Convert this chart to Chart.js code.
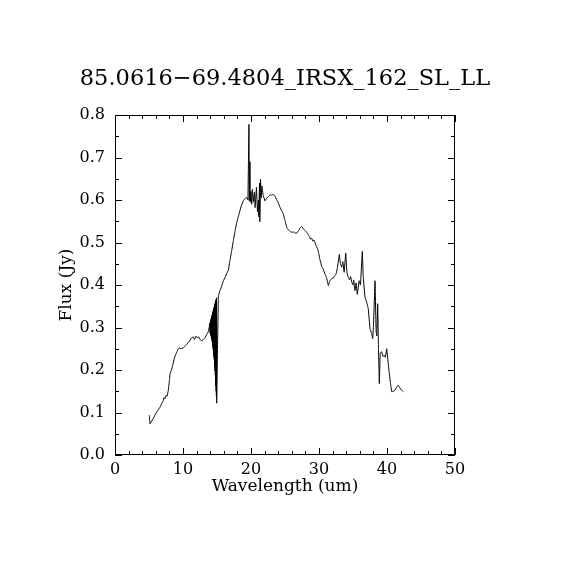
<!DOCTYPE html>
<html>
<head>
<meta charset="utf-8">
<title>85.0616−69.4804_IRSX_162_SL_LL</title>
<script src="https://cdn.jsdelivr.net/npm/chart.js@4.4.1/dist/chart.umd.min.js"></script>
<style>
    html, body { margin: 0; padding: 0; background: #fff; }
    #wrap { width: 570px; height: 570px; }
</style>
</head>
<body>
<div id="wrap"><canvas id="spectrumChart"></canvas></div>
<script>
// spectrum
const wavelength = [
    5.04, 5.15, 5.4, 5.7, 6.0, 6.3, 6.6, 6.9, 7.1, 7.2, 7.35, 7.5, 7.65, 7.84, 8.0, 8.1, 8.3, 8.5, 8.7, 8.9,
    9.1, 9.31, 9.5, 9.7, 10.04, 10.3, 10.54, 10.8, 11.0, 11.2, 11.5, 11.7, 11.9, 12.1, 12.3, 12.5, 12.75, 13.0, 13.24, 13.5,
    13.72,
    // noisy stretch around 14-15 um
    13.97, 13.99, 14.01, 14.03, 14.05, 14.07, 14.09, 14.11, 14.13, 14.15, 14.17, 14.19, 14.21, 14.23, 14.25, 14.27, 14.29, 14.31, 14.33, 14.35,
    14.37, 14.39, 14.41, 14.43, 14.45, 14.47, 14.49, 14.51, 14.53, 14.55, 14.57, 14.59, 14.61, 14.63, 14.65, 14.67, 14.69, 14.71, 14.73, 14.75,
    14.77, 14.79, 14.81, 14.83, 14.85, 14.87, 14.89, 14.91, 14.93, 14.95,
    15.2, 15.44, 15.7, 15.93, 16.2, 16.45, 16.66, 16.9, 17.15, 17.4, 17.65, 17.9, 18.15,
    18.38, 18.6, 18.87, 19.1, 19.37, 19.55, 19.7, 19.75, 19.85, 19.9, 20.0, 20.1, 20.2, 20.35, 20.5, 20.6, 20.8, 20.95, 21.1, 21.15,
    21.25, 21.3, 21.4, 21.5, 21.6, 21.8, 22.06, 22.3, 22.5, 22.75, 23.0, 23.25, 23.5, 23.8, 24.0, 24.26, 24.5, 24.75, 25.0, 25.25,
    25.5, 25.74, 26.0, 26.3, 26.5, 26.72, 27.0, 27.2, 27.46, 27.7, 27.95, 28.19, 28.43, 28.6, 28.75, 28.93, 29.1, 29.25, 29.41, 29.6,
    29.9, 30.1, 30.4, 30.6, 30.88, 31.1, 31.37, 31.6, 31.87, 32.1, 32.3, 32.5, 32.7, 32.99, 33.15, 33.34, 33.5, 33.7, 33.93, 34.1,
    34.31, 34.5, 34.65, 34.81, 35.0, 35.1, 35.29, 35.45, 35.63, 35.9, 36.1, 36.37, 36.5, 36.76, 37.0, 37.25, 37.5, 37.7, 37.9, 38.0,
    38.24, 38.4, 38.5, 38.63, 38.75, 38.87, 39.0, 39.22, 39.4, 39.56, 39.75, 39.96, 40.15, 40.34, 40.5, 40.69, 40.9, 41.18, 41.4, 41.66,
    41.9, 42.1, 42.4
];
const flux = [
    0.094, 0.073, 0.080, 0.088, 0.098, 0.105, 0.112, 0.122, 0.128, 0.135, 0.132, 0.140, 0.138, 0.152, 0.175, 0.192, 0.200, 0.212, 0.226, 0.235,
    0.243, 0.250, 0.252, 0.250, 0.252, 0.256, 0.260, 0.266, 0.268, 0.275, 0.278, 0.272, 0.280, 0.276, 0.278, 0.272, 0.268, 0.272, 0.276, 0.284,
    0.290,
    0.310, 0.287, 0.312, 0.285, 0.315, 0.283, 0.317, 0.281, 0.320, 0.278, 0.322, 0.276, 0.325, 0.273, 0.327, 0.270, 0.330, 0.265, 0.332, 0.261,
    0.335, 0.256, 0.337, 0.250, 0.340, 0.245, 0.342, 0.238, 0.345, 0.231, 0.347, 0.225, 0.350, 0.217, 0.352, 0.208, 0.355, 0.198, 0.357, 0.187,
    0.360, 0.174, 0.362, 0.162, 0.365, 0.150, 0.367, 0.138, 0.370, 0.122,
    0.375, 0.387, 0.398, 0.410, 0.418, 0.428, 0.434, 0.457, 0.480, 0.504, 0.527, 0.547, 0.562,
    0.575, 0.588, 0.598, 0.603, 0.606, 0.600, 0.778, 0.598, 0.690, 0.595, 0.620, 0.590, 0.625, 0.595, 0.618, 0.582, 0.630, 0.572, 0.600, 0.560,
    0.640, 0.549, 0.649, 0.605, 0.633, 0.610, 0.598, 0.604, 0.607, 0.611, 0.612, 0.613, 0.610, 0.600, 0.594, 0.583, 0.575, 0.567, 0.552, 0.536,
    0.530, 0.526, 0.524, 0.525, 0.522, 0.522, 0.528, 0.534, 0.538, 0.532, 0.528, 0.524, 0.518, 0.514, 0.508, 0.510, 0.503, 0.506, 0.500, 0.492,
    0.480, 0.462, 0.444, 0.438, 0.426, 0.418, 0.399, 0.410, 0.415, 0.416, 0.422, 0.425, 0.440, 0.472, 0.450, 0.442, 0.455, 0.430, 0.475, 0.430,
    0.418, 0.412, 0.420, 0.407, 0.400, 0.412, 0.387, 0.405, 0.378, 0.410, 0.400, 0.479, 0.420, 0.371, 0.360, 0.344, 0.297, 0.288, 0.274, 0.300,
    0.410, 0.290, 0.280, 0.356, 0.250, 0.168, 0.240, 0.243, 0.232, 0.235, 0.230, 0.250, 0.220, 0.192, 0.170, 0.149, 0.150, 0.152, 0.160, 0.164,
    0.158, 0.153, 0.149
];

const xTickLabels = [0, 10, 20, 30, 40, 50];
const xMinorTicks = [0, 2, 4, 6, 8, 10, 12, 14, 16, 18, 20, 22, 24, 26, 28, 30, 32, 34, 36, 38, 40, 42, 44, 46, 48, 50];
const yTickLabels = [0.0, 0.1, 0.2, 0.3, 0.4, 0.5, 0.6, 0.7, 0.8];
const yMinorTicks = [0.0, 0.05, 0.1, 0.15, 0.2, 0.25, 0.3, 0.35, 0.4, 0.45, 0.5, 0.55, 0.6, 0.65, 0.7, 0.75, 0.8];

const serif = "'DejaVu Serif', 'Liberation Serif', serif";

// box round the plot with inward ticks on all four sides, like the IDL plot
const frameTicks = {
    id: 'frameTicks',
    afterDraw(chart) {
        const { ctx, chartArea: a, scales: { x, y } } = chart;
        ctx.save();
        ctx.strokeStyle = '#000';
        ctx.lineWidth = 1;
        ctx.beginPath();
        ctx.rect(a.left + 0.5, a.top + 0.5, a.right - a.left - 1, a.bottom - a.top - 1);

        const tick = (vals, major, len, minorLen, horiz) => {
            vals.forEach(v => {
                const isMajor = major.some(m => Math.abs(m - v) < 1e-9);
                const l = isMajor ? len : minorLen;
                if (horiz) {
                    const px = Math.round(x.getPixelForValue(v)) + 0.5;
                    ctx.moveTo(px, a.bottom); ctx.lineTo(px, a.bottom - l);
                    ctx.moveTo(px, a.top); ctx.lineTo(px, a.top + l);
                } else {
                    const py = Math.round(y.getPixelForValue(v)) + 0.5;
                    ctx.moveTo(a.left, py); ctx.lineTo(a.left + l, py);
                    ctx.moveTo(a.right, py); ctx.lineTo(a.right - l, py);
                }
            });
        };
        tick(xMinorTicks, xTickLabels, 7, 4, true);
        tick(yMinorTicks, yTickLabels, 7, 4, false);
        ctx.stroke();
        ctx.restore();
    }
};

document.addEventListener('DOMContentLoaded', function() {
    const ctx = document.getElementById('spectrumChart').getContext('2d');
    new Chart(ctx, {
        type: 'line',
        data: {
            datasets: [{
                data: wavelength.map((w, i) => ({ x: w, y: flux[i] })),
                borderColor: '#000',
                borderWidth: 1,
                pointRadius: 0,
                // a tiny tension keeps Chart.js off its per-pixel fast path,
                // so the dense 14-15 um zigzag fills in solid
                tension: 0.001,
                fill: false
            }]
        },
        options: {
            responsive: true,
            maintainAspectRatio: false,
            animation: false,
            layout: { padding: 0 },
            plugins: {
                legend: { display: false },
                tooltip: { enabled: false },
                title: {
                    display: true,
                    text: '85.0616−69.4804_IRSX_162_SL_LL',
                    color: '#000',
                    font: { family: serif, size: 22.5, weight: 'normal' },
                    padding: { top: 66, bottom: 22 }
                }
            },
            scales: {
                x: {
                    type: 'linear',
                    min: 0,
                    max: 50,
                    afterBuildTicks: scale => { scale.ticks = xTickLabels.map(v => ({ value: v })); },
                    afterFit: scale => { scale.height = 115; },
                    grid: { display: false, drawTicks: false },
                    border: { display: false },
                    ticks: {
                        color: '#000',
                        padding: 5,
                        maxRotation: 0,
                        font: { family: serif, size: 16 }
                    },
                    title: {
                        display: true,
                        text: 'Wavelength (um)',
                        color: '#000',
                        font: { family: serif, size: 17 },
                        padding: { top: 0, bottom: 73 }
                    }
                },
                y: {
                    type: 'linear',
                    min: 0,
                    max: 0.8,
                    afterBuildTicks: scale => { scale.ticks = yTickLabels.map(v => ({ value: v })); },
                    afterFit: scale => { scale.width = 115; },
                    grid: { display: false, drawTicks: false },
                    border: { display: false },
                    ticks: {
                        color: '#000',
                        padding: 10,
                        font: { family: serif, size: 16 },
                        callback: value => value.toFixed(1)
                    },
                    title: {
                        display: true,
                        text: 'Flux (Jy)',
                        color: '#000',
                        font: { family: serif, size: 17 },
                        padding: { top: 56, bottom: 0 }
                    }
                },
                // empty right axis, only keeps the plot centred like the original
                yRight: {
                    type: 'linear',
                    position: 'right',
                    min: 0,
                    max: 0.8,
                    afterFit: scale => { scale.width = 115; },
                    grid: { display: false, drawTicks: false },
                    border: { display: false },
                    ticks: { display: false }
                }
            }
        },
        plugins: [frameTicks]
    });
});
</script>
</body>
</html>
